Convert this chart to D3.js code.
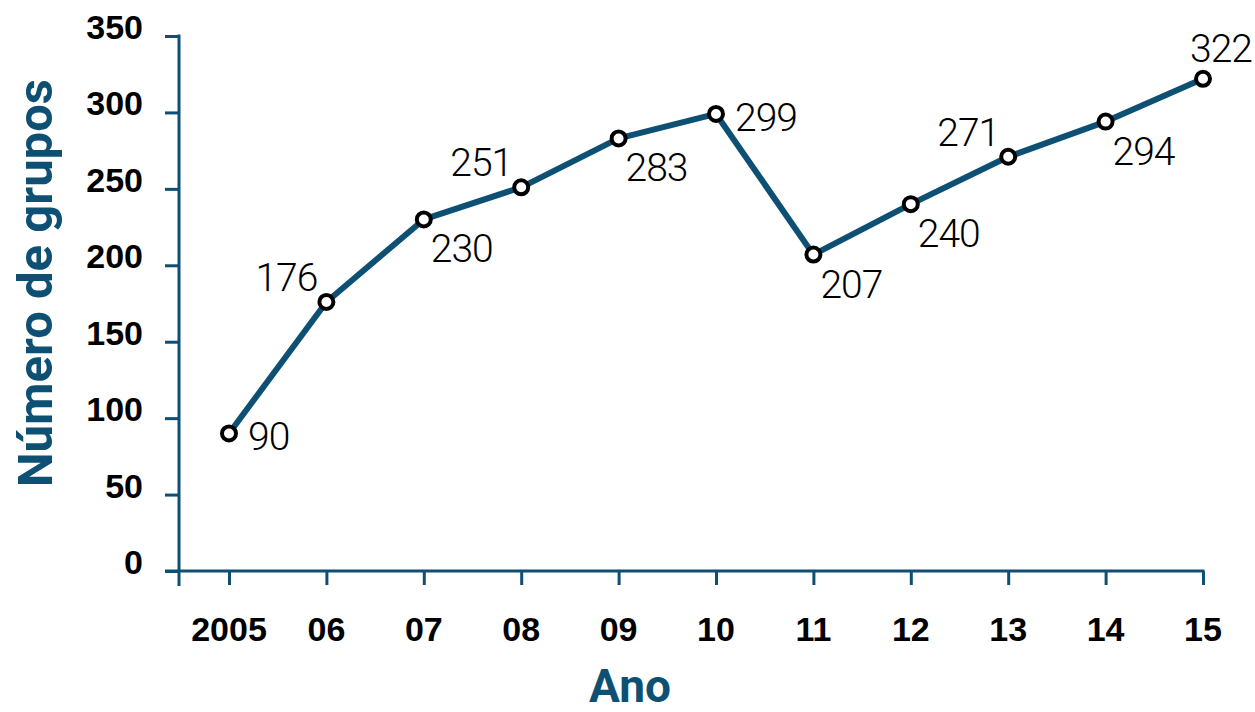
<!DOCTYPE html>
<html lang="pt">
<head>
<meta charset="UTF-8">
<title>Número de grupos por ano</title>
<script src="https://cdn.jsdelivr.net/npm/d3@7/dist/d3.min.js"></script>
<style>
  body { margin: 0; background: #fff; }
  svg { display: block; font-family: Roboto, 'Noto Sans', sans-serif; }
  .tick-label { font-weight: 700; font-size: 34px; fill: #000; }
  .value-label { font-weight: 300; font-size: 39px; fill: #000; letter-spacing: -1px; }
  .axis-title { font-weight: 700; fill: #0d5073; }
</style>
</head>
<body>
<div id="chart"></div>
<script>
// data
var years = ['2005', '06', '07', '08', '09', '10', '11', '12', '13', '14', '15'];
var groups = [90, 176, 230, 251, 283, 299, 207, 240, 271, 294, 322];
var yTicks = [0, 50, 100, 150, 200, 250, 300, 350];
// where each value label sits relative to its point
var labelSide = ['r', 'ul', 'lr', 'ul', 'lr', 'r', 'lr', 'lr', 'ul', 'lr', 'u'];

var W = 1255, H = 712;
var teal = '#0d5073';

var svg = d3.select('#chart').append('svg')
    .attr('width', W).attr('height', H);

var x = d3.scalePoint().domain(years).range([229, 1203]);
var y = d3.scaleLinear().domain([0, 350]).range([571, 36]);
var axisX = 179;

// y axis
var yAxis = svg.append('g').attr('transform', 'translate(' + axisX + ',0)')
    .call(d3.axisLeft(y).tickValues(yTicks).tickSize(14).tickFormat(''));
yAxis.select('.domain').remove();
yAxis.selectAll('line').attr('stroke', teal).attr('stroke-width', 3);
yAxis.append('line')
    .attr('x1', 0).attr('x2', 0)
    .attr('y1', y(350) - 1.5).attr('y2', y(0) + 15)
    .attr('stroke', teal).attr('stroke-width', 3);
yAxis.selectAll('.ylab').data(yTicks).enter().append('text')
    .attr('class', 'tick-label')
    .attr('x', -36).attr('y', function(d) { return y(d) + 3; })
    .attr('text-anchor', 'end')
    .text(function(d) { return d; });

// x axis
var xAxis = svg.append('g').attr('transform', 'translate(0,' + y(0) + ')')
    .call(d3.axisBottom(x).tickSize(14).tickFormat(''));
xAxis.select('.domain').remove();
xAxis.selectAll('line').attr('stroke', teal).attr('stroke-width', 3);
xAxis.append('line')
    .attr('x1', axisX - 14).attr('x2', x('15') + 1.5)
    .attr('y1', 0).attr('y2', 0)
    .attr('stroke', teal).attr('stroke-width', 3);
xAxis.selectAll('.xlab').data(years).enter().append('text')
    .attr('class', 'tick-label')
    .attr('x', function(d) { return x(d); }).attr('y', 70)
    .attr('text-anchor', 'middle')
    .text(function(d) { return d; });

// axis titles
svg.append('text').attr('class', 'axis-title')
    .attr('x', 630).attr('y', 702)
    .attr('text-anchor', 'middle').attr('font-size', 46)
    .text('Ano');
svg.append('text').attr('class', 'axis-title')
    .attr('transform', 'translate(52,283) rotate(-90)')
    .attr('text-anchor', 'middle').attr('font-size', 49)
    .text('Número de grupos');

// line
var pts = years.map(function(d, i) { return { year: d, v: groups[i], side: labelSide[i] }; });
svg.append('path').datum(pts)
    .attr('fill', 'none').attr('stroke', teal).attr('stroke-width', 6)
    .attr('stroke-linejoin', 'round')
    .attr('d', d3.line().x(function(d) { return x(d.year); }).y(function(d) { return y(d.v); }));

svg.selectAll('.pt').data(pts).enter().append('circle')
    .attr('cx', function(d) { return x(d.year); })
    .attr('cy', function(d) { return y(d.v); })
    .attr('r', 7)
    .attr('fill', '#fff').attr('stroke', '#000').attr('stroke-width', 4);

// value labels
var offs = {
  r:  { dx: 19,  dy: 17,  anchor: 'start' },
  ul: { dx: -9,  dy: -11, anchor: 'end' },
  lr: { dx: 7,   dy: 43,  anchor: 'start' },
  u:  { dx: 18,  dy: -17, anchor: 'middle' }
};
svg.selectAll('.val').data(pts).enter().append('text')
    .attr('class', 'value-label')
    .attr('x', function(d) { return x(d.year) + offs[d.side].dx; })
    .attr('y', function(d) { return y(d.v) + offs[d.side].dy; })
    .attr('text-anchor', function(d) { return offs[d.side].anchor; })
    .text(function(d) { return d.v; });
</script>
</body>
</html>
